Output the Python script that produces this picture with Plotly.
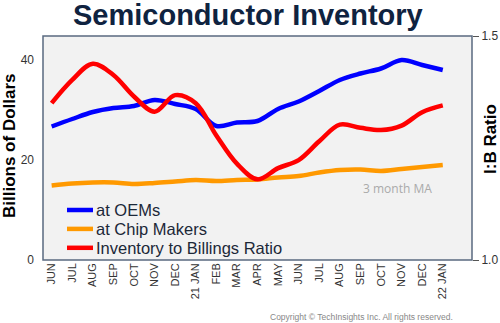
import plotly.graph_objects as go

months = ["JUN", "JUL", "AUG", "SEP", "OCT", "NOV", "DEC", "21 JAN", "FEB", "MAR",
          "APR", "MAY", "JUN", "JUL", "AUG", "SEP", "OCT", "NOV", "DEC", "22 JAN"]

# Inventory, billions of dollars (3 month moving average)
oems = [26.7, 28.2, 29.6, 30.4, 30.8, 32.0, 31.2, 30.2, 26.8, 27.5,
        27.8, 30.2, 31.7, 33.8, 36.0, 37.3, 38.3, 40.0, 39.0, 38.0]
chip_makers = [14.9, 15.3, 15.5, 15.5, 15.2, 15.4, 15.7, 16.0, 15.8, 16.0,
               16.1, 16.5, 16.8, 17.5, 18.0, 18.1, 17.8, 18.2, 18.6, 19.0]

# Inventory to billings ratio
ib_ratio = [1.350, 1.402, 1.438, 1.413, 1.365, 1.331, 1.368, 1.350, 1.278, 1.215,
            1.180, 1.205, 1.223, 1.265, 1.302, 1.295, 1.290, 1.300, 1.330, 1.345]

series_names = ["at OEMs", "at Chip Makers", "Inventory to Billings Ratio"]
series_colors = ["#0000ff", "#ff9900", "#ff0000"]

x = list(range(len(months)))
FONT = "Arial, Liberation Sans, sans-serif"

# plot area in page pixels
L, R, T, B = 43, 472, 36, 260

fig = go.Figure()
for name, vals, color, axis in zip(series_names, [oems, chip_makers, ib_ratio],
                                   series_colors, ["y", "y", "y2"]):
    fig.add_trace(go.Scatter(x=x, y=vals, name=name, mode="lines", yaxis=axis,
                             showlegend=False,
                             line=dict(color=color, width=4.5, shape="spline", smoothing=1)))

fig.update_layout(
    width=500, height=323,
    margin=dict(l=L, r=500 - R, t=T, b=323 - B),
    paper_bgcolor="white",
    plot_bgcolor="#f2f2f2",
    font=dict(family=FONT, color="#333333", size=12),
    xaxis=dict(range=[-0.42, 20.42], tickmode="array", tickvals=x, ticktext=months,
               tickangle=-90, tickfont=dict(size=11, color="#333333"),
               showgrid=False, zeroline=False, ticks="", automargin=False),
    yaxis=dict(range=[0, 44.8], tickvals=[0, 20, 40], showgrid=False, zeroline=False,
               ticks="", ticklabelstandoff=8,
               tickfont=dict(size=12, color="#333333"), automargin=False),
    yaxis2=dict(range=[1.0, 1.5], tickvals=[1.0, 1.5], ticktext=["1.0", "1.5"],
                overlaying="y", side="right", showgrid=False, zeroline=False,
                ticks="outside", ticklen=6, tickcolor="#555555", automargin=False,
                tickfont=dict(size=12, color="#333333")),
    shapes=[dict(type="rect", xref="paper", yref="paper", x0=0, y0=0, x1=1, y1=1,
                 line=dict(color="#5a6a80", width=1.5), fillcolor="rgba(0,0,0,0)")],
)


def px_x(px):
    return (px - L) / (R - L)


def px_y(py):
    return (B - py) / (B - T)


# Titles and footer positioned by page pixel, converted to paper coordinates
def page_text(text, px, py, size, color, angle=0, bold=False, xanchor="center",
              family=FONT):
    fig.add_annotation(text=f"<b>{text}</b>" if bold else text,
                       x=px_x(px), y=px_y(py), xref="paper", yref="paper",
                       xanchor=xanchor, yanchor="middle",
                       showarrow=False, textangle=angle,
                       font=dict(size=size, color=color, family=family))


page_text("Semiconductor Inventory", 248, 15, 29, "#0f2340", bold=True)
page_text("3 month MA", 397, 188, 12, "#aaaaaa", family="Open Sans, sans-serif")
page_text("Billions of Dollars", 9, 146, 17, "#000000", angle=-90, bold=True)
page_text("I:B Ratio", 490, 139, 17, "#000000", angle=-90, bold=True)
page_text("Copyright © TechInsights Inc. All rights reserved.", 361, 317, 8.5, "#888888")

# Legend drawn inside the plot area
for i, (name, color) in enumerate(zip(series_names, series_colors)):
    ly = 210 + i * 18.9
    fig.add_shape(type="line", xref="paper", yref="paper",
                  x0=px_x(67), x1=px_x(93), y0=px_y(ly), y1=px_y(ly),
                  line=dict(color=color, width=4.5))
    page_text(name, 94, ly, 16.5, "#1c2838", xanchor="left")

fig.write_html("out.html")
